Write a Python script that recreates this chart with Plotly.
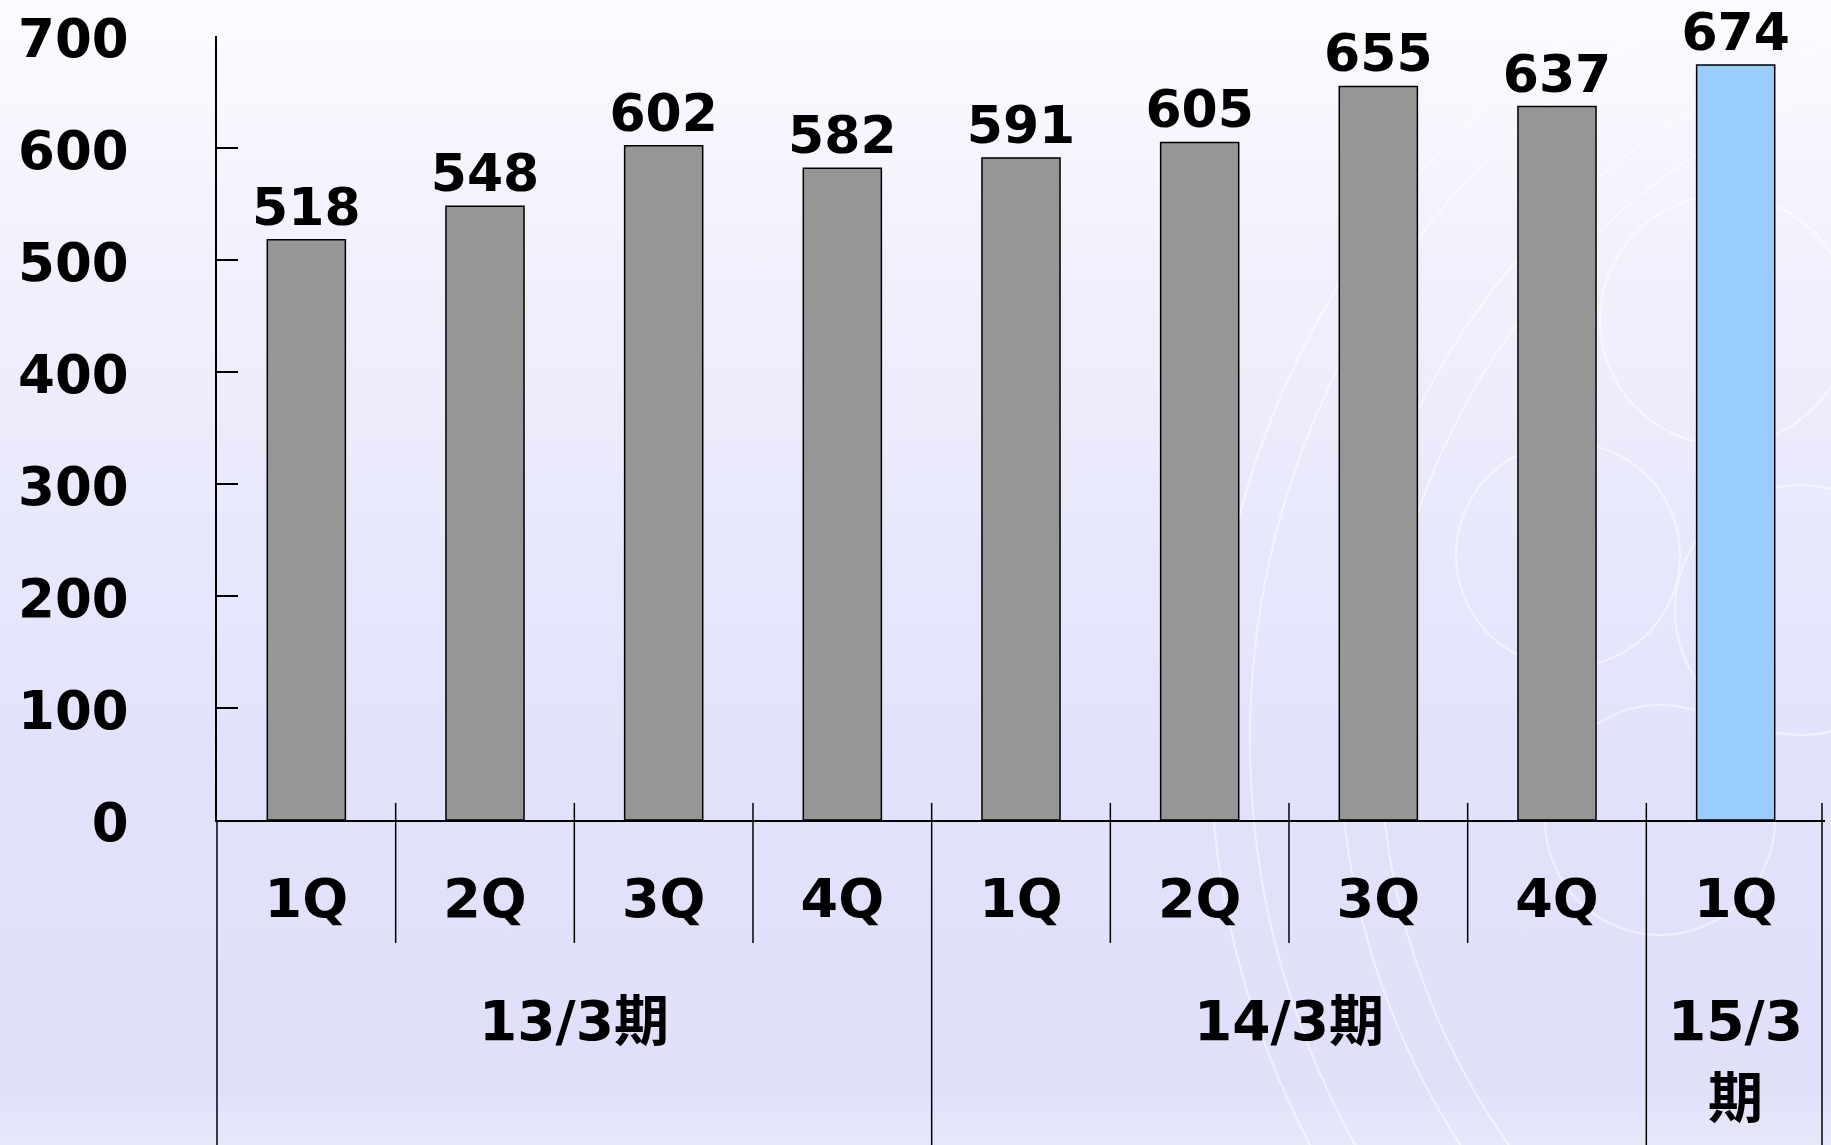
import base64
import plotly.graph_objects as go

# ---- data ----
periods = ["13/3期", "14/3期", "15/3期"]
quarters = ["1Q", "2Q", "3Q", "4Q", "1Q", "2Q", "3Q", "4Q", "1Q"]
quarter_period = [0, 0, 0, 0, 1, 1, 1, 1, 2]
values = [518, 548, 602, 582, 591, 605, 655, 637, 674]
bar_colors = ["#969696"] * 8 + ["#99CCFF"]
y_ticks = [0, 100, 200, 300, 400, 500, 600, 700]

W, H = 1831, 1145
ML, MR, MT, MB = 217, 6, 36, 325
PW, PH = W - ML - MR, H - MT - MB
FONT = "DejaVu Sans, Noto Sans CJK JP, sans-serif"

def py(pix):  # pixel y (from top) -> paper y
    return (H - MB - pix) / PH

n = len(quarters)
def px(xcat):  # category coordinate -> paper x
    return (xcat + 0.5) / n

# background svg: gradient + faint decorative circles
svg = f'''<svg xmlns="http://www.w3.org/2000/svg" width="{W}" height="{H}" viewBox="0 0 {W} {H}">
<defs><linearGradient id="g" x1="0" y1="0" x2="0" y2="1">
<stop offset="0" stop-color="#FBFBFF"/><stop offset="0.35" stop-color="#ECECFC"/>
<stop offset="0.65" stop-color="#E2E2FC"/><stop offset="0.95" stop-color="#E0E0FB"/>
<stop offset="1" stop-color="#E8E8FA"/></linearGradient></defs>
<rect width="{W}" height="{H}" fill="url(#g)"/>
<g fill="none" stroke="#FFFFFF" stroke-opacity="0.55" stroke-width="2">
<circle cx="1568" cy="555" r="112"/>
<circle cx="1725" cy="320" r="125"/>
<circle cx="1660" cy="820" r="115"/>
<circle cx="1800" cy="610" r="125"/>
<circle cx="2080" cy="740" r="700"/>
<circle cx="2080" cy="740" r="740"/>
<circle cx="2080" cy="740" r="830"/>
<circle cx="2080" cy="740" r="870"/>
</g></svg>'''
bg_src = "data:image/svg+xml;base64," + base64.b64encode(svg.encode()).decode()

fig = go.Figure()
fig.add_trace(go.Bar(
    x=list(range(n)), y=values,
    marker=dict(color=bar_colors, line=dict(color="black", width=1.5)),
    width=0.437,
    text=[str(v) for v in values], textposition="outside", constraintext="none",
    textfont=dict(family=FONT, size=52, color="black", weight="bold"),
    cliponaxis=False, hoverinfo="skip",
))

shapes = []
# quarter dividers (short) and period dividers (long)
for i in range(n - 1):
    if quarter_period[i] != quarter_period[i + 1]:
        y1 = 0 - MB / PH
    else:
        y1 = py(943)
    shapes.append(dict(type="line", xref="paper", yref="paper",
                       x0=px(i + 0.5), x1=px(i + 0.5), y0=py(803), y1=y1,
                       line=dict(color="black", width=1.5)))
# left axis extension and right boundary
shapes.append(dict(type="line", xref="paper", yref="paper", x0=0, x1=0,
                   y0=0, y1=-MB / PH, line=dict(color="black", width=1.5)))
shapes.append(dict(type="line", xref="paper", yref="paper", x0=px(n - 0.5) - 3 / PW, x1=px(n - 0.5) - 3 / PW,
                   y0=py(803), y1=-MB / PH, line=dict(color="black", width=1.5)))

annotations = []
for p, name in enumerate(periods):
    idx = [i for i, q in enumerate(quarter_period) if q == p]
    cx = (idx[0] + idx[-1]) / 2
    if len(idx) == 1:
        lines = [name[:-1], name[-1]]
    else:
        lines = [name]
    for k, line in enumerate(lines):
        annotations.append(dict(
            x=px(cx), xref="paper", y=py(1021 + 77 * k), yref="paper",
            text=line, showarrow=False, xanchor="center", yanchor="middle",
            font=dict(family=FONT, size=55, color="black", weight="bold")))

fig.update_layout(
    width=W, height=H,
    margin=dict(l=ML, r=MR, t=MT, b=MB, pad=0),
    paper_bgcolor="#E6E6FA", plot_bgcolor="rgba(0,0,0,0)",
    showlegend=False, bargap=0.563,
    shapes=shapes, annotations=annotations,
    images=[dict(source=bg_src, xref="paper", yref="paper",
                 x=-ML / PW, y=1 + MT / PH, sizex=W / PW, sizey=H / PH,
                 xanchor="left", yanchor="top", sizing="stretch", layer="below")],
    xaxis=dict(range=[-0.5, n - 0.5], tickvals=list(range(n)), ticktext=quarters,
               showline=True, linecolor="black", linewidth=1.5, ticks="",
               showgrid=False, zeroline=False, ticklabelstandoff=30,
               tickfont=dict(family=FONT, size=54, color="black", weight="bold")),
    yaxis=dict(range=[0, 700], tickvals=y_ticks, ticks="inside", ticklen=21,
               tickwidth=1.5, tickcolor="black", showline=True, linecolor="black",
               linewidth=1.5, showgrid=False, zeroline=False,
               ticklabelstandoff=76, ticklabelshift=2,
               tickfont=dict(family=FONT, size=53, color="black", weight="bold")),
)

fig.write_html("out.html", config={"displayModeBar": False},
               post_script="document.body.style.margin='0';document.body.style.background='#E6E6FA';")
